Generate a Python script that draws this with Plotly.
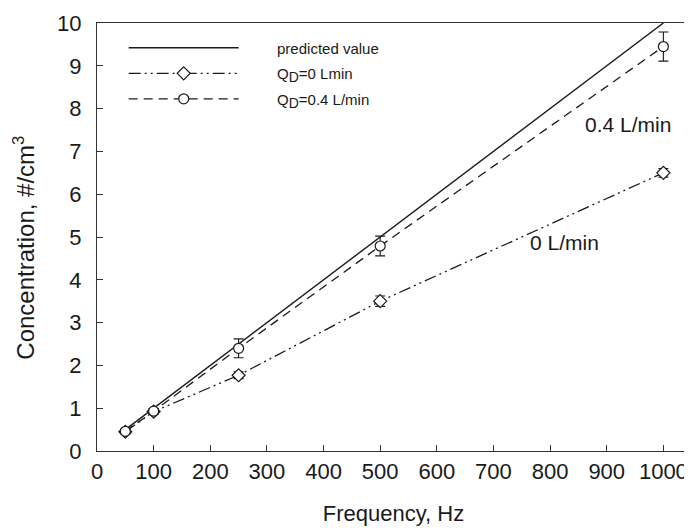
import plotly.graph_objects as go

freq_pred = [50, 1000]
conc_pred = [0.5, 10.0]

freq = [50, 100, 250, 500, 1000]
conc_q0 = [0.45, 0.92, 1.77, 3.50, 6.50]
err_q0 = [0.05, 0.06, 0.08, 0.12, 0.10]
conc_q04 = [0.46, 0.93, 2.40, 4.79, 9.45]
err_q04 = [0.04, 0.06, 0.22, 0.23, 0.34]

x_ticks = [0, 100, 200, 300, 400, 500, 600, 700, 800, 900, 1000]
y_ticks = [0, 1, 2, 3, 4, 5, 6, 7, 8, 9, 10]

INK = "#1a1a1a"
FONT = "Liberation Sans, Arial, sans-serif"
PAD = "\u00a0" * 8
SUB = "<sub><span style='font-size:14px'>D</span></sub>"

fig = go.Figure()
fig.add_trace(go.Scatter(
    x=freq_pred, y=conc_pred, mode="lines", name=PAD + "predicted value",
    legendgroup="a",
    line=dict(color=INK, width=1.4)))
fig.add_trace(go.Scatter(
    x=freq, y=conc_q0, mode="lines+markers", name=PAD + "Q" + SUB + "=0 Lmin",
    legendgroup="b",
    line=dict(color=INK, width=1.3, dash="12px,4px,2px,4px,2px,4px"),
    marker=dict(symbol="diamond", size=10, color="white", line=dict(color=INK, width=1.2)),
    error_y=dict(type="data", array=err_q0, color=INK, thickness=1.1, width=5)))
fig.add_trace(go.Scatter(
    x=freq, y=conc_q04, mode="lines+markers", name=PAD + "Q" + SUB + "=0.4 L/min",
    legendgroup="c",
    line=dict(color=INK, width=1.3, dash="9px,6px"),
    marker=dict(symbol="circle", size=10, color="white", line=dict(color=INK, width=1.2)),
    error_y=dict(type="data", array=err_q04, color=INK, thickness=1.1, width=5)))

fig.add_annotation(x=938, y=7.62, text="0.4 L/min", showarrow=False,
                   font=dict(family=FONT, size=21, color=INK))
fig.add_annotation(x=825, y=4.87, text="0 L/min", showarrow=False,
                   font=dict(family=FONT, size=21, color=INK))
# y-axis title
fig.add_annotation(xref="paper", yref="paper", x=0, y=0.475, xshift=-73,
                   text="Concentration, #/cm<sup>3</sup>", textangle=-90,
                   showarrow=False, xanchor="center", yanchor="middle",
                   font=dict(family=FONT, size=24, color=INK))

axis_common = dict(
    showline=True, linecolor="#333333", linewidth=1.3, mirror=True,
    ticks="inside", ticklen=6, tickcolor="#333333", tickwidth=1.2,
    showgrid=False, zeroline=False, automargin=False,
    tickfont=dict(family=FONT, size=22, color=INK),
)

# page body has an 8px default margin, so the figure is sized to fit the 692x530 window
fig.update_layout(
    width=684, height=522,
    margin=dict(l=89, r=2, t=15, b=79),
    paper_bgcolor="white", plot_bgcolor="white",
    font=dict(family=FONT, color=INK),
    showlegend=True,
    legend=dict(x=0.045, y=0.98, xanchor="left", yanchor="top",
                bgcolor="rgba(0,0,0,0)", itemwidth=110,
                font=dict(family=FONT, size=15, color=INK),
                tracegroupgap=3),
    xaxis=dict(range=[0, 1047], tickvals=x_ticks, ticklabelstandoff=0,
               title=dict(text="Frequency, Hz", font=dict(family=FONT, size=22, color=INK), standoff=23),
               **axis_common),
    yaxis=dict(range=[0, 10], tickvals=y_ticks, ticklabelstandoff=10,
               **axis_common),
)

fig.write_html("out.html")
